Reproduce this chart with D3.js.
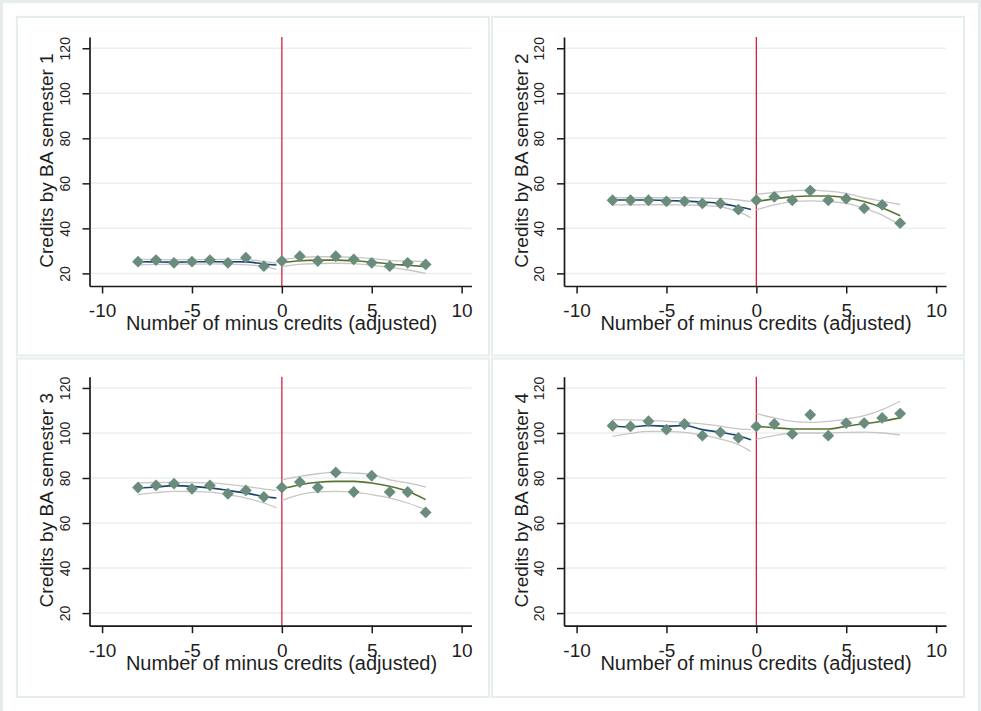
<!DOCTYPE html>
<html>
<head>
<meta charset="utf-8">
<script src="https://cdn.jsdelivr.net/npm/d3@7"></script>
<style>
  body { margin: 0; background: #fff; }
  text { font-family: "Liberation Sans", Arial, sans-serif; fill: #1e1e1e; }
</style>
</head>
<body>
<div id="chart"></div>
<script>
// bins of the running variable
const xBins = [-8, -7, -6, -5, -4, -3, -2, -1, 0, 1, 2, 3, 4, 5, 6, 7, 8];
const xTicks = [-10, -5, 0, 5, 10];
const yTicks = [20, 40, 60, 80, 100, 120];

// bin means, one array per semester
const sem1 = [25.2, 25.9, 24.7, 25.2, 25.9, 24.7, 27.0, 23.2, 25.5, 27.6, 25.5, 27.6, 26.2, 24.7, 23.2, 24.7, 24.0];
const sem2 = [52.5, 52.5, 52.5, 52.0, 52.0, 51.1, 51.1, 48.3, 52.5, 54.0, 52.5, 56.8, 52.5, 53.2, 48.9, 50.4, 42.3];
const sem3 = [75.8, 76.7, 77.5, 75.2, 76.7, 73.0, 74.5, 71.6, 75.8, 78.2, 75.8, 82.5, 73.8, 81.0, 73.8, 73.8, 64.7];
const sem4 = [103.2, 102.9, 105.2, 101.5, 104.0, 98.8, 100.3, 97.8, 102.9, 104.0, 99.6, 108.1, 98.8, 104.4, 104.4, 106.7, 108.6];

// local polynomial fits with confidence bands
const fitXLeft = [-8, -7, -6, -5, -4, -3, -2, -1, -0.3];
const fitXRight = [0, 1, 2, 3, 4, 5, 6, 7, 8];

const fitLeft1 = [25.2, 25.1, 25.0, 25.1, 25.2, 25.2, 25.1, 24.2, 23.7];
const hiLeft1 = [26.2, 26.2, 26.1, 26.1, 26.2, 26.2, 26.1, 25.3, 24.5];
const loLeft1 = [23.8, 24.0, 24.1, 24.1, 24.2, 24.1, 23.8, 23.0, 21.8];
const fitRight1 = [24.7, 25.6, 25.9, 25.9, 25.6, 25.0, 24.2, 23.6, 23.0];
const hiRight1 = [26.2, 27.0, 27.4, 27.4, 27.1, 26.6, 25.8, 25.5, 25.2];
const loRight1 = [23.0, 24.0, 24.4, 24.5, 24.3, 23.6, 22.7, 21.5, 20.0];

const fitLeft2 = [52.6, 52.6, 52.6, 52.4, 52.1, 51.7, 51.1, 49.6, 48.4];
const hiLeft2 = [53.6, 53.6, 53.6, 53.6, 53.6, 53.5, 53.3, 52.6, 51.9];
const loLeft2 = [50.4, 50.5, 50.5, 50.5, 50.4, 50.2, 49.6, 47.4, 44.7];
const fitRight2 = [51.9, 53.1, 54.0, 54.4, 54.4, 53.6, 51.9, 49.2, 45.6];
const hiRight2 = [55.1, 56.0, 56.8, 57.0, 56.5, 55.5, 53.6, 52.1, 50.6];
const loRight2 = [48.2, 50.4, 51.9, 52.2, 51.9, 51.1, 48.9, 45.9, 41.5];

const fitLeft3 = [75.6, 76.0, 76.6, 76.3, 75.6, 74.5, 73.3, 71.8, 71.1];
const hiLeft3 = [77.8, 78.0, 78.1, 78.0, 77.8, 77.2, 76.3, 75.1, 74.5];
const loLeft3 = [72.6, 73.5, 74.1, 74.0, 73.7, 72.6, 71.1, 68.9, 66.7];
const fitRight3 = [75.1, 77.0, 78.1, 78.5, 78.5, 77.8, 76.3, 74.1, 70.4];
const hiRight3 = [79.2, 80.7, 81.9, 82.5, 82.2, 81.5, 79.2, 77.8, 76.0];
const loRight3 = [70.0, 72.6, 73.8, 74.1, 73.7, 72.6, 71.1, 68.9, 65.9];

const fitLeft4 = [103.0, 102.7, 103.3, 103.0, 103.3, 101.5, 100.3, 98.8, 97.0];
const hiLeft4 = [105.9, 105.8, 105.6, 105.2, 104.7, 104.0, 103.0, 101.8, 101.5];
const loLeft4 = [98.5, 99.8, 100.7, 100.6, 100.3, 99.0, 97.3, 94.8, 91.8];
const fitRight4 = [103.0, 102.3, 101.8, 101.8, 101.8, 103.0, 104.1, 105.2, 106.7];
const hiRight4 = [108.6, 106.7, 105.2, 104.7, 105.2, 106.2, 107.7, 110.4, 114.1];
const loRight4 = [97.3, 98.8, 100.0, 100.0, 100.0, 100.3, 100.4, 100.0, 99.2];

const panels = [
  { title: "Credits by BA semester 1", means: sem1, fl: fitLeft1, hl: hiLeft1, ll: loLeft1, fr: fitRight1, hr: hiRight1, lr: loRight1, box: [17, 17], plot: [89.5, 37] },
  { title: "Credits by BA semester 2", means: sem2, fl: fitLeft2, hl: hiLeft2, ll: loLeft2, fr: fitRight2, hr: hiRight2, lr: loRight2, box: [492, 17], plot: [564, 37] },
  { title: "Credits by BA semester 3", means: sem3, fl: fitLeft3, hl: hiLeft3, ll: loLeft3, fr: fitRight3, hr: hiRight3, lr: loRight3, box: [17, 358.5], plot: [89.5, 376.7] },
  { title: "Credits by BA semester 4", means: sem4, fl: fitLeft4, hl: hiLeft4, ll: loLeft4, fr: fitRight4, hr: hiRight4, lr: loRight4, box: [492, 358.5], plot: [564, 376.7] }
];

const W = 981, H = 711;
const boxW = 472, boxH = 338.5;
const plotW = 382, plotH = 249;

const svg = d3.select("#chart").append("svg")
  .attr("width", W)
  .attr("height", H);

// outer frame
svg.append("rect")
  .attr("x", 1.5).attr("y", 1.5)
  .attr("width", W - 3).attr("height", H + 10)
  .attr("fill", "#fff")
  .attr("stroke", "#e6ecec")
  .attr("stroke-width", 3);

const x = d3.scaleLinear().domain([-10.7, 10.55]).range([0, plotW]);
const y = d3.scaleLinear().domain([14.4, 125]).range([plotH, 0]);

const line = d3.line().x(d => x(d[0])).y(d => y(d[1])).curve(d3.curveMonotoneX);
const diamond = d3.symbol().type(d3.symbolSquare).size(70);

panels.forEach(p => {
  svg.append("rect")
    .attr("x", p.box[0]).attr("y", p.box[1])
    .attr("width", boxW).attr("height", boxH)
    .attr("fill", "#fff")
    .attr("stroke", "#e6eded")
    .attr("stroke-width", 2);

  const g = svg.append("g")
    .attr("transform", `translate(${p.plot[0]},${p.plot[1]})`);

  // gridlines
  g.selectAll(".grid")
    .data(yTicks)
    .enter().append("line")
    .attr("x1", 0).attr("x2", plotW)
    .attr("y1", d => y(d)).attr("y2", d => y(d))
    .attr("stroke", "#e8f0f0")
    .attr("stroke-width", 1.5);

  // cutoff
  g.append("line")
    .attr("x1", x(0)).attr("x2", x(0))
    .attr("y1", 0).attr("y2", plotH)
    .attr("stroke", "#d4223c")
    .attr("stroke-width", 1.3);

  const band = [
    [fitXLeft, p.hl], [fitXLeft, p.ll],
    [fitXRight, p.hr], [fitXRight, p.lr]
  ];
  band.forEach(b => {
    g.append("path")
      .datum(b[0].map((v, i) => [v, b[1][i]]))
      .attr("d", line)
      .attr("fill", "none")
      .attr("stroke", "#c6c6c6")
      .attr("stroke-width", 1.3);
  });

  g.append("path")
    .datum(fitXLeft.map((v, i) => [v, p.fl[i]]))
    .attr("d", line)
    .attr("fill", "none")
    .attr("stroke", "#1a476f")
    .attr("stroke-width", 1.6);

  g.append("path")
    .datum(fitXRight.map((v, i) => [v, p.fr[i]]))
    .attr("d", line)
    .attr("fill", "none")
    .attr("stroke", "#55752f")
    .attr("stroke-width", 1.6);

  g.selectAll(".pt")
    .data(xBins.map((v, i) => [v, p.means[i]]))
    .enter().append("path")
    .attr("d", diamond)
    .attr("transform", d => `translate(${x(d[0])},${y(d[1])}) rotate(45)`)
    .attr("fill", "#6a8c7c");

  // axes
  const yAxis = g.append("g")
    .call(d3.axisLeft(y).tickValues(yTicks).tickFormat(d => String(d)).tickSize(7).tickSizeOuter(0));
  yAxis.selectAll("text")
    .attr("x", 0).attr("dy", 0)
    .attr("transform", "translate(-20,0) rotate(-90)")
    .attr("text-anchor", "middle")
    .style("font-size", "14px");

  const xAxis = g.append("g")
    .attr("transform", `translate(0,${plotH})`)
    .call(d3.axisBottom(x).tickValues(xTicks).tickFormat(d => String(d)).tickSize(7.5).tickSizeOuter(0));
  xAxis.selectAll("text")
    .attr("y", 31).attr("dy", 0)
    .style("font-size", "19px");

  [yAxis, xAxis].forEach(a => {
    a.select(".domain").attr("stroke", "#1a1a1a").attr("stroke-width", 1.7);
    a.selectAll(".tick line").attr("stroke", "#1a1a1a").attr("stroke-width", 1.5);
    a.selectAll("text").attr("fill", "#1e1e1e").style("font-family", "Liberation Sans, Arial, sans-serif");
  });

  g.append("text")
    .attr("x", plotW / 2 + 1)
    .attr("y", plotH + 44)
    .attr("text-anchor", "middle")
    .style("font-size", "20px")
    .text("Number of minus credits (adjusted)");

  g.append("text")
    .attr("transform", `translate(-36.5,${plotH / 2 - 1}) rotate(-90)`)
    .attr("text-anchor", "middle")
    .style("font-size", "19px")
    .text(p.title);
});
</script>
</body>
</html>
